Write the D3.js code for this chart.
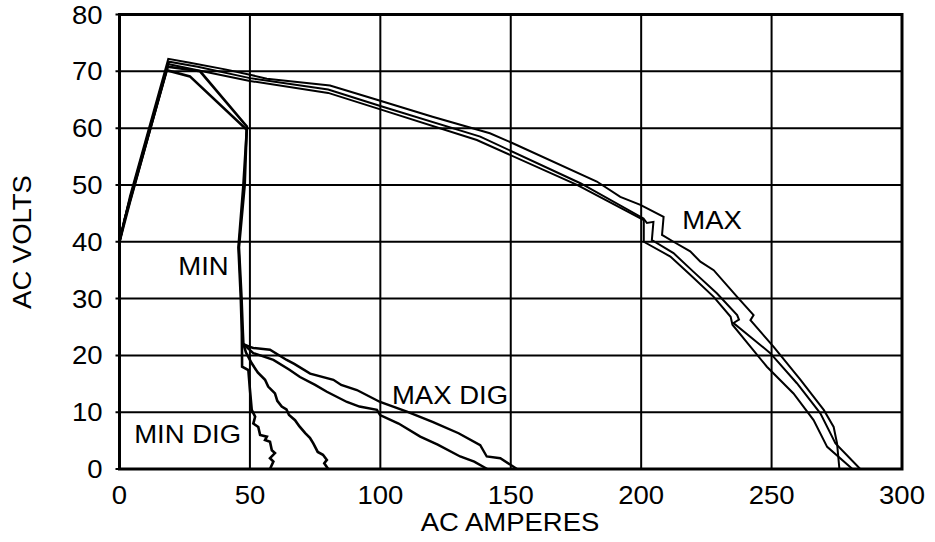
<!DOCTYPE html>
<html><head><meta charset="utf-8">
<script src="https://cdn.jsdelivr.net/npm/d3@7/dist/d3.min.js"></script>
<style>body{margin:0;background:#fff}svg{display:block}text{font-family:"Liberation Sans",Arial,sans-serif;fill:#000}</style>
</head><body><svg id="c" width="935" height="542"></svg>
<script>
const xTicks = [0, 50, 100, 150, 200, 250, 300];
const yTicks = [0, 10, 20, 30, 40, 50, 60, 70, 80];
const xTitle = "AC AMPERES";
const yTitle = "AC VOLTS";

const maxOuter = [[0,40],[4,48],[18.7,72.2],[27,71.5],[41,70.3],[50,69.4],[56.5,68.7],[80.7,67.5],[98.7,65],[120,62],[142,59.1],[151,57.3],[183,50.6],[192,47.9],[199.7,46.5],[208.6,44.4],[208,41.2],[212.4,40],[218.8,38.3],[222.7,36.5],[227.8,35],[236.8,30.3],[243.1,27.1],[241.9,26.2],[250.8,21.5],[261.1,15.7],[270,10.4],[273.8,7.4],[275.1,4.5],[276,0]];
const maxMid = [[0,40],[2,44],[19,71.7],[30,70.8],[50,68.8],[80,66.8],[100,63.9],[138.3,58.5],[176.7,50.3],[200.9,44.1],[202.2,43.3],[204.7,43.5],[204.1,40.3],[212.4,38],[220.1,34.7],[229.1,30.9],[236.8,27.1],[237.5,26.3],[235.4,25.7],[249.5,20.4],[259.7,15.1],[268.7,9.8],[274.5,4.5],[284,0]];
const maxLow = [[0,40],[3,46],[18.5,71.3],[30,70.2],[50,68.3],[80,66.2],[100,63.3],[137,57.9],[175.4,50],[201,43.8],[201,40],[211.2,37.4],[218.8,34.2],[227.8,30.3],[234.3,26.8],[235,25.4],[248.2,18],[258.4,13.3],[266.1,8.6],[271.3,3.9],[281,0]];
const minA = [[0,40],[4,47],[18,70.2],[27,69.1],[48.8,59.7],[47.5,50],[45.6,39],[46.5,30],[46.9,24],[47,18],[49.4,17.4],[50,14],[50.7,10.4],[52,9.2],[51.3,8],[53.2,7.4],[53.9,6],[56.5,5.7],[55.8,5.1],[57.7,4.8],[58.4,3.3],[59.6,2.8],[57.7,1.9],[59,1.3],[57.7,0]];
const minB = [[0,40],[2,44],[18.5,70.8],[30.9,70],[48.8,60.3],[48,50],[45.8,39],[46.8,30],[47.3,24],[47.5,22],[48.5,20.5],[50.7,18.6],[53,17],[55.8,15.7],[57,14.5],[59.6,13.3],[60.5,12],[62.2,11],[64,10.5],[65,9.5],[67.3,8.6],[69,7.5],[71.2,6.3],[73,5.5],[74.3,4.5],[76,3],[78,2.5],[79.5,1.6],[78.5,1],[80,0]];
const maxDigUp = [[47.5,22],[50,21.5],[51.3,21.3],[57.7,21],[64.1,19.2],[67,18.5],[73.1,16.8],[82,15.7],[85,14.8],[91,13.9],[99.9,11.8],[110.2,10.1],[120,8.3],[130,6.3],[138.3,4.2],[140.8,2.2],[146,1.9],[152.4,0]];
const maxDigLow = [[47.5,22],[51.3,20.4],[59,19.2],[65,17.5],[69.2,16.2],[75,14.8],[79.5,13.6],[87.2,11.8],[92,11],[98.7,10.4],[99.9,9.5],[107,8],[115.3,5.7],[122,4.3],[130.6,2.2],[136,1.3],[141,0]];

const labelText = ["MAX", "MIN", "MAX DIG", "MIN DIG"];
const labelPos = [[227.2, 42.2], [32.2, 34.1], [126.7, 11.4], [26.1, 4.6]];

const svg = d3.select("#c");
const x = d3.scaleLinear().domain([0, 300]).range([119.5, 902]);
const y = d3.scaleLinear().domain([0, 80]).range([469, 14.5]);
const FS = 25, SX = 1.1;
function txt(px, py, t, anchor, rot) {
  return svg.append("text")
    .attr("transform", `translate(${px},${py})` + (rot ? ` rotate(${rot})` : "") + ` scale(${SX},1)`)
    .attr("text-anchor", anchor).attr("font-size", FS).text(t);
}

// grid
const g = svg.append("g");
g.selectAll(".vg").data(xTicks).join("line")
  .attr("x1", d => x(d)).attr("x2", d => x(d)).attr("y1", y(80)).attr("y2", y(0))
  .attr("stroke", "#000").attr("stroke-width", 2);
g.selectAll(".hg").data(yTicks).join("line")
  .attr("x1", x(0) - 4).attr("x2", x(300)).attr("y1", d => y(d)).attr("y2", d => y(d))
  .attr("stroke", "#000").attr("stroke-width", 2);

// curve labels
labelText.forEach((t, i) => txt(x(labelPos[i][0]), y(labelPos[i][1]), t, "middle"));

// curves
const line = d3.line().x(d => x(d[0])).y(d => y(d[1]));
const series = [
  [maxOuter, 2], [maxMid, 2], [maxLow, 2], [minA, 2.6], [minB, 2.6], [maxDigUp, 2.4], [maxDigLow, 2.4]
];
series.forEach(([d, w]) => {
  svg.append("path").attr("d", line(d)).attr("fill", "none").attr("stroke", "#000")
    .attr("stroke-width", w).attr("stroke-linejoin", "miter");
});

// frame
svg.append("rect").attr("x", x(0)).attr("y", y(80)).attr("width", x(300) - x(0)).attr("height", y(0) - y(80))
  .attr("fill", "none").attr("stroke", "#000").attr("stroke-width", 3);

// tick labels
xTicks.forEach(d => txt(x(d), y(0) + 35, d, "middle"));
yTicks.forEach(d => txt(x(0) - 17, y(d) + 9, d, "end"));

txt(510, 531, xTitle, "middle");
txt(31, 242, yTitle, "middle", -90);
</script></body></html>
